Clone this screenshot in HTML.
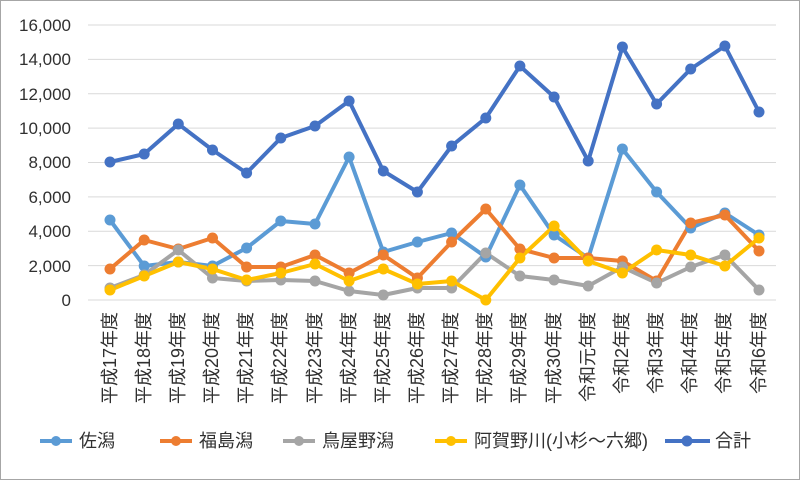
<!DOCTYPE html>
<html><head><meta charset="utf-8"><style>body{margin:0;background:#fff}svg{display:block}text{font-family:"Liberation Sans","Noto Sans CJK JP",sans-serif;fill:#303030}</style></head><body>
<svg width="800" height="480" viewBox="0 0 800 480" xmlns="http://www.w3.org/2000/svg">
<rect x="0.5" y="0.5" width="799" height="479" fill="none" stroke="#a6a6a6" stroke-width="1"/>
<g stroke="#d9d9d9" stroke-width="1">
<line x1="88" x2="776" y1="300" y2="300"/><line x1="88" x2="776" y1="265.6" y2="265.6"/><line x1="88" x2="776" y1="231.2" y2="231.2"/><line x1="88" x2="776" y1="196.9" y2="196.9"/><line x1="88" x2="776" y1="162.5" y2="162.5"/><line x1="88" x2="776" y1="128.1" y2="128.1"/><line x1="88" x2="776" y1="93.7" y2="93.7"/><line x1="88" x2="776" y1="59.4" y2="59.4"/><line x1="88" x2="776" y1="25" y2="25"/>
</g>
<g font-size="17" text-anchor="end">
<text x="71" y="306">0</text><text x="71" y="272">2,000</text><text x="71" y="237">4,000</text><text x="71" y="203">6,000</text><text x="71" y="168">8,000</text><text x="71" y="134">10,000</text><text x="71" y="100">12,000</text><text x="71" y="65">14,000</text><text x="71" y="31">16,000</text>
</g>
<g font-size="18" text-anchor="end">
<text transform="translate(116,312) rotate(-90)">平成17年度</text>
<text transform="translate(150,312) rotate(-90)">平成18年度</text>
<text transform="translate(184,312) rotate(-90)">平成19年度</text>
<text transform="translate(218,312) rotate(-90)">平成20年度</text>
<text transform="translate(252,312) rotate(-90)">平成21年度</text>
<text transform="translate(286,312) rotate(-90)">平成22年度</text>
<text transform="translate(321,312) rotate(-90)">平成23年度</text>
<text transform="translate(355,312) rotate(-90)">平成24年度</text>
<text transform="translate(389,312) rotate(-90)">平成25年度</text>
<text transform="translate(423,312) rotate(-90)">平成26年度</text>
<text transform="translate(457,312) rotate(-90)">平成27年度</text>
<text transform="translate(491,312) rotate(-90)">平成28年度</text>
<text transform="translate(525,312) rotate(-90)">平成29年度</text>
<text transform="translate(560,312) rotate(-90)">平成30年度</text>
<text transform="translate(594,312) rotate(-90)">令和元年度</text>
<text transform="translate(628,312) rotate(-90)">令和2年度</text>
<text transform="translate(662,312) rotate(-90)">令和3年度</text>
<text transform="translate(696,312) rotate(-90)">令和4年度</text>
<text transform="translate(730,312) rotate(-90)">令和5年度</text>
<text transform="translate(765,312) rotate(-90)">令和6年度</text>
</g>
<g fill="none" stroke-width="4" stroke-linejoin="round">
<polyline id="s1" stroke="#5b9bd5" points="110,220 144.2,266 178.3,262 212.5,266 246.6,248 280.8,221 315,224 349.1,157 383.3,252 417.4,242 451.6,233 485.8,257 519.9,185 554.1,235 588.2,258 622.4,149 656.6,192 690.7,228 724.9,213 759,235"/>
<polyline id="s2" stroke="#ed7d31" points="110,269 144.2,240 178.3,249 212.5,238 246.6,267 280.8,267 315,255 349.1,273 383.3,255 417.4,278 451.6,242 485.8,209 519.9,249 554.1,258 588.2,258 622.4,261 656.6,281 690.7,223 724.9,215 759,251"/>
<polyline id="s3" stroke="#a5a5a5" points="110,288 144.2,275 178.3,250 212.5,278 246.6,281 280.8,280 315,281 349.1,291 383.3,295 417.4,288 451.6,288 485.8,253 519.9,276 554.1,280 588.2,286 622.4,267 656.6,283 690.7,267 724.9,255 759,290"/>
<polyline id="s4" stroke="#ffc000" points="110,290 144.2,276 178.3,262 212.5,269 246.6,280 280.8,273 315,264 349.1,281 383.3,269 417.4,284 451.6,281 485.8,300 519.9,258 554.1,226 588.2,261 622.4,273 656.6,250 690.7,255 724.9,266 759,238"/>
<polyline id="s5" stroke="#4472c4" points="110,162 144.2,154 178.3,124 212.5,150 246.6,173 280.8,138 315,126 349.1,101 383.3,171 417.4,192 451.6,146 485.8,118 519.9,66 554.1,97 588.2,161 622.4,47 656.6,104 690.7,69 724.9,46 759,112"/>
</g>
<g id="dots"></g>
<g font-size="18">
<line x1="40" x2="72" y1="441" y2="441" stroke="#5b9bd5" stroke-width="4"/><circle cx="56" cy="441" r="5" fill="#5b9bd5"/><text x="79" y="447">佐潟</text>
<line x1="160" x2="192" y1="441" y2="441" stroke="#ed7d31" stroke-width="4"/><circle cx="176" cy="441" r="5" fill="#ed7d31"/><text x="199" y="447">福島潟</text>
<line x1="283" x2="315" y1="441" y2="441" stroke="#a5a5a5" stroke-width="4"/><circle cx="299" cy="441" r="5" fill="#a5a5a5"/><text x="322" y="447">鳥屋野潟</text>
<line x1="435" x2="467" y1="441" y2="441" stroke="#ffc000" stroke-width="4"/><circle cx="451" cy="441" r="5" fill="#ffc000"/><text x="474" y="447">阿賀野川(小杉～六郷)</text>
<line x1="665" x2="710" y1="441" y2="441" stroke="#4472c4" stroke-width="4"/><circle cx="687" cy="441" r="5.5" fill="#4472c4"/><text x="715" y="447">合計</text>
</g>
</svg>
<script>
var ns="http://www.w3.org/2000/svg",g=document.getElementById("dots");
["s1","s2","s3","s4","s5"].forEach(function(id){var p=document.getElementById(id),c=p.getAttribute("stroke");
p.getAttribute("points").trim().split(/\s+/).forEach(function(pt){var a=pt.split(","),e=document.createElementNS(ns,"circle");e.setAttribute("cx",a[0]);e.setAttribute("cy",a[1]);e.setAttribute("r","5.5");e.setAttribute("fill",c);g.appendChild(e);});});
</script>
</body></html>
